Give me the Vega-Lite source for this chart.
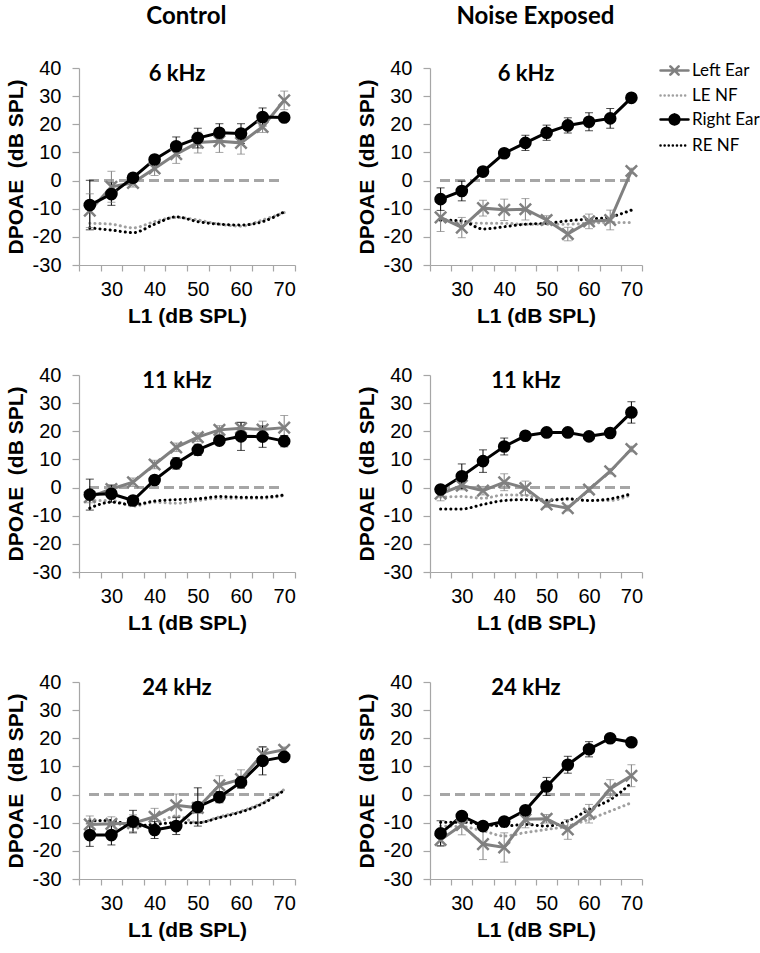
{
  "$schema": "https://vega.github.io/schema/vega-lite/v6.json",
  "background": "white",
  "padding": 5,
  "datasets": {
    "d": [
      {"p":"C6","s":"Left Ear","x":25,"y":-10.7,"lo":-16.7,"hi":-4.7},
      {"p":"C6","s":"Left Ear","x":30,"y":-2.2,"lo":-7.7,"hi":3.3},
      {"p":"C6","s":"Left Ear","x":35,"y":-0.8,"lo":-2.3,"hi":0.7},
      {"p":"C6","s":"Left Ear","x":40,"y":4.3,"lo":1.8,"hi":6.8},
      {"p":"C6","s":"Left Ear","x":45,"y":9.4,"lo":6.1,"hi":12.7},
      {"p":"C6","s":"Left Ear","x":50,"y":13.5,"lo":9.8,"hi":17.2},
      {"p":"C6","s":"Left Ear","x":55,"y":14.0,"lo":10.0,"hi":18.0},
      {"p":"C6","s":"Left Ear","x":60,"y":13.4,"lo":9.4,"hi":17.4},
      {"p":"C6","s":"Left Ear","x":65,"y":19.1,"lo":17.1,"hi":21.1},
      {"p":"C6","s":"Left Ear","x":70,"y":28.5,"lo":25.2,"hi":31.8},
      {"p":"C6","s":"Right Ear","x":25,"y":-8.7,"lo":-17.5,"hi":0.1},
      {"p":"C6","s":"Right Ear","x":30,"y":-4.8,"lo":-8.8,"hi":-0.8},
      {"p":"C6","s":"Right Ear","x":35,"y":1.0,"lo":-0.5,"hi":2.5},
      {"p":"C6","s":"Right Ear","x":40,"y":7.5,"lo":6.0,"hi":9.0},
      {"p":"C6","s":"Right Ear","x":45,"y":12.2,"lo":8.9,"hi":15.5},
      {"p":"C6","s":"Right Ear","x":50,"y":15.1,"lo":11.6,"hi":18.6},
      {"p":"C6","s":"Right Ear","x":55,"y":17.0,"lo":13.8,"hi":20.2},
      {"p":"C6","s":"Right Ear","x":60,"y":16.7,"lo":13.2,"hi":20.2},
      {"p":"C6","s":"Right Ear","x":65,"y":22.6,"lo":19.4,"hi":25.8},
      {"p":"C6","s":"Right Ear","x":70,"y":22.4,"lo":21.4,"hi":23.4},
      {"p":"C6","s":"LE NF","x":25,"y":-15.2},{"p":"C6","s":"LE NF","x":30,"y":-15.5},{"p":"C6","s":"LE NF","x":35,"y":-16.8},{"p":"C6","s":"LE NF","x":40,"y":-14.6},{"p":"C6","s":"LE NF","x":45,"y":-13.1},{"p":"C6","s":"LE NF","x":50,"y":-14.0},{"p":"C6","s":"LE NF","x":55,"y":-15.5},{"p":"C6","s":"LE NF","x":60,"y":-16.2},{"p":"C6","s":"LE NF","x":65,"y":-14.0},{"p":"C6","s":"LE NF","x":70,"y":-11.4},
      {"p":"C6","s":"RE NF","x":25,"y":-16.8},{"p":"C6","s":"RE NF","x":30,"y":-17.6},{"p":"C6","s":"RE NF","x":35,"y":-18.5},{"p":"C6","s":"RE NF","x":40,"y":-15.5},{"p":"C6","s":"RE NF","x":45,"y":-12.9},{"p":"C6","s":"RE NF","x":50,"y":-14.6},{"p":"C6","s":"RE NF","x":55,"y":-15.5},{"p":"C6","s":"RE NF","x":60,"y":-15.8},{"p":"C6","s":"RE NF","x":65,"y":-14.6},{"p":"C6","s":"RE NF","x":70,"y":-11.1},

      {"p":"N6","s":"Left Ear","x":25,"y":-13.1,"lo":-18.1,"hi":-8.1},
      {"p":"N6","s":"Left Ear","x":30,"y":-16.7,"lo":-20.3,"hi":-13.1},
      {"p":"N6","s":"Left Ear","x":35,"y":-9.8,"lo":-12.6,"hi":-7.0},
      {"p":"N6","s":"Left Ear","x":40,"y":-10.4,"lo":-14.2,"hi":-6.6},
      {"p":"N6","s":"Left Ear","x":45,"y":-10.2,"lo":-14.0,"hi":-6.4},
      {"p":"N6","s":"Left Ear","x":50,"y":-14.0,"lo":-15.5,"hi":-12.5},
      {"p":"N6","s":"Left Ear","x":55,"y":-19.0,"lo":-21.4,"hi":-16.6},
      {"p":"N6","s":"Left Ear","x":60,"y":-14.5,"lo":-17.1,"hi":-11.9},
      {"p":"N6","s":"Left Ear","x":65,"y":-14.0,"lo":-17.5,"hi":-10.5},
      {"p":"N6","s":"Left Ear","x":70,"y":3.4,"lo":2.4,"hi":4.4},
      {"p":"N6","s":"Right Ear","x":25,"y":-6.6,"lo":-10.6,"hi":-2.6},
      {"p":"N6","s":"Right Ear","x":30,"y":-3.7,"lo":-7.2,"hi":-0.2},
      {"p":"N6","s":"Right Ear","x":35,"y":3.2,"lo":1.7,"hi":4.7},
      {"p":"N6","s":"Right Ear","x":40,"y":9.7,"lo":8.2,"hi":11.2},
      {"p":"N6","s":"Right Ear","x":45,"y":13.4,"lo":10.7,"hi":16.1},
      {"p":"N6","s":"Right Ear","x":50,"y":17.0,"lo":14.3,"hi":19.7},
      {"p":"N6","s":"Right Ear","x":55,"y":19.6,"lo":16.9,"hi":22.3},
      {"p":"N6","s":"Right Ear","x":60,"y":20.9,"lo":17.7,"hi":24.1},
      {"p":"N6","s":"Right Ear","x":65,"y":22.1,"lo":18.6,"hi":25.6},
      {"p":"N6","s":"Right Ear","x":70,"y":29.4,"lo":28.4,"hi":30.4},
      {"p":"N6","s":"LE NF","x":25,"y":-14.3},{"p":"N6","s":"LE NF","x":30,"y":-14.9},{"p":"N6","s":"LE NF","x":35,"y":-15.2},{"p":"N6","s":"LE NF","x":40,"y":-15.2},{"p":"N6","s":"LE NF","x":45,"y":-15.5},{"p":"N6","s":"LE NF","x":50,"y":-15.5},{"p":"N6","s":"LE NF","x":55,"y":-15.5},{"p":"N6","s":"LE NF","x":60,"y":-15.2},{"p":"N6","s":"LE NF","x":65,"y":-14.9},{"p":"N6","s":"LE NF","x":70,"y":-14.9},
      {"p":"N6","s":"RE NF","x":25,"y":-14.0},{"p":"N6","s":"RE NF","x":30,"y":-14.3},{"p":"N6","s":"RE NF","x":35,"y":-17.2},{"p":"N6","s":"RE NF","x":40,"y":-16.4},{"p":"N6","s":"RE NF","x":45,"y":-15.5},{"p":"N6","s":"RE NF","x":50,"y":-15.2},{"p":"N6","s":"RE NF","x":55,"y":-14.3},{"p":"N6","s":"RE NF","x":60,"y":-13.7},{"p":"N6","s":"RE NF","x":65,"y":-12.9},{"p":"N6","s":"RE NF","x":70,"y":-10.5},

      {"p":"C11","s":"Left Ear","x":25,"y":-3.4,"lo":-5.4,"hi":-1.4},
      {"p":"C11","s":"Left Ear","x":30,"y":-0.5,"lo":-2.0,"hi":1.0},
      {"p":"C11","s":"Left Ear","x":35,"y":1.9,"lo":0.4,"hi":3.4},
      {"p":"C11","s":"Left Ear","x":40,"y":8.2,"lo":6.7,"hi":9.7},
      {"p":"C11","s":"Left Ear","x":45,"y":14.3,"lo":12.8,"hi":15.8},
      {"p":"C11","s":"Left Ear","x":50,"y":17.9,"lo":16.4,"hi":19.4},
      {"p":"C11","s":"Left Ear","x":55,"y":20.5,"lo":19.0,"hi":22.0},
      {"p":"C11","s":"Left Ear","x":60,"y":21.1,"lo":19.1,"hi":23.1},
      {"p":"C11","s":"Left Ear","x":65,"y":20.6,"lo":17.6,"hi":23.6},
      {"p":"C11","s":"Left Ear","x":70,"y":21.3,"lo":17.0,"hi":25.6},
      {"p":"C11","s":"Right Ear","x":25,"y":-2.5,"lo":-8.0,"hi":3.0},
      {"p":"C11","s":"Right Ear","x":30,"y":-2.2,"lo":-5.2,"hi":0.8},
      {"p":"C11","s":"Right Ear","x":35,"y":-4.6,"lo":-5.6,"hi":-3.6},
      {"p":"C11","s":"Right Ear","x":40,"y":2.7,"lo":1.2,"hi":4.2},
      {"p":"C11","s":"Right Ear","x":45,"y":8.6,"lo":6.6,"hi":10.6},
      {"p":"C11","s":"Right Ear","x":50,"y":13.4,"lo":11.4,"hi":15.4},
      {"p":"C11","s":"Right Ear","x":55,"y":16.7,"lo":15.2,"hi":18.2},
      {"p":"C11","s":"Right Ear","x":60,"y":18.2,"lo":13.2,"hi":23.2},
      {"p":"C11","s":"Right Ear","x":65,"y":18.1,"lo":14.3,"hi":21.9},
      {"p":"C11","s":"Right Ear","x":70,"y":16.5,"lo":14.5,"hi":18.5},
      {"p":"C11","s":"LE NF","x":25,"y":-4.6},{"p":"C11","s":"LE NF","x":30,"y":-4.6},{"p":"C11","s":"LE NF","x":35,"y":-6.6},{"p":"C11","s":"LE NF","x":40,"y":-5.2},{"p":"C11","s":"LE NF","x":45,"y":-5.6},{"p":"C11","s":"LE NF","x":50,"y":-4.6},{"p":"C11","s":"LE NF","x":55,"y":-3.8},{"p":"C11","s":"LE NF","x":60,"y":-3.8},{"p":"C11","s":"LE NF","x":65,"y":-3.8},{"p":"C11","s":"LE NF","x":70,"y":-2.8},
      {"p":"C11","s":"RE NF","x":25,"y":-7.3},{"p":"C11","s":"RE NF","x":30,"y":-5.2},{"p":"C11","s":"RE NF","x":35,"y":-6.1},{"p":"C11","s":"RE NF","x":40,"y":-4.8},{"p":"C11","s":"RE NF","x":45,"y":-4.3},{"p":"C11","s":"RE NF","x":50,"y":-4.0},{"p":"C11","s":"RE NF","x":55,"y":-3.2},{"p":"C11","s":"RE NF","x":60,"y":-3.4},{"p":"C11","s":"RE NF","x":65,"y":-3.4},{"p":"C11","s":"RE NF","x":70,"y":-2.6},

      {"p":"N11","s":"Left Ear","x":25,"y":-2.2,"lo":-4.7,"hi":0.3},
      {"p":"N11","s":"Left Ear","x":30,"y":0.7,"lo":-0.8,"hi":2.2},
      {"p":"N11","s":"Left Ear","x":35,"y":-1.1,"lo":-2.6,"hi":0.4},
      {"p":"N11","s":"Left Ear","x":40,"y":1.9,"lo":-1.1,"hi":4.9},
      {"p":"N11","s":"Left Ear","x":45,"y":-0.2,"lo":-2.7,"hi":2.3},
      {"p":"N11","s":"Left Ear","x":50,"y":-6.0,"lo":-7.0,"hi":-5.0},
      {"p":"N11","s":"Left Ear","x":55,"y":-7.3,"lo":-8.3,"hi":-6.3},
      {"p":"N11","s":"Left Ear","x":60,"y":-0.7,"lo":-1.7,"hi":0.3},
      {"p":"N11","s":"Left Ear","x":65,"y":5.8,"lo":4.8,"hi":6.8},
      {"p":"N11","s":"Left Ear","x":70,"y":13.7,"lo":12.7,"hi":14.7},
      {"p":"N11","s":"Right Ear","x":25,"y":-0.7,"lo":-1.7,"hi":0.3},
      {"p":"N11","s":"Right Ear","x":30,"y":4.0,"lo":-0.4,"hi":8.4},
      {"p":"N11","s":"Right Ear","x":35,"y":9.4,"lo":5.4,"hi":13.4},
      {"p":"N11","s":"Right Ear","x":40,"y":14.6,"lo":11.6,"hi":17.6},
      {"p":"N11","s":"Right Ear","x":45,"y":18.4,"lo":17.4,"hi":19.4},
      {"p":"N11","s":"Right Ear","x":50,"y":19.6,"lo":18.6,"hi":20.6},
      {"p":"N11","s":"Right Ear","x":55,"y":19.6,"lo":18.6,"hi":20.6},
      {"p":"N11","s":"Right Ear","x":60,"y":18.2,"lo":17.2,"hi":19.2},
      {"p":"N11","s":"Right Ear","x":65,"y":19.4,"lo":18.4,"hi":20.4},
      {"p":"N11","s":"Right Ear","x":70,"y":26.7,"lo":22.9,"hi":30.5},
      {"p":"N11","s":"LE NF","x":25,"y":-3.4},{"p":"N11","s":"LE NF","x":30,"y":-3.2},{"p":"N11","s":"LE NF","x":35,"y":-3.8},{"p":"N11","s":"LE NF","x":40,"y":-2.6},{"p":"N11","s":"LE NF","x":45,"y":-2.8},{"p":"N11","s":"LE NF","x":50,"y":-4.4},{"p":"N11","s":"LE NF","x":55,"y":-4.3},{"p":"N11","s":"LE NF","x":60,"y":-4.6},{"p":"N11","s":"LE NF","x":65,"y":-4.6},{"p":"N11","s":"LE NF","x":70,"y":-2.5},
      {"p":"N11","s":"RE NF","x":25,"y":-7.6},{"p":"N11","s":"RE NF","x":30,"y":-7.6},{"p":"N11","s":"RE NF","x":35,"y":-6.0},{"p":"N11","s":"RE NF","x":40,"y":-4.6},{"p":"N11","s":"RE NF","x":45,"y":-4.3},{"p":"N11","s":"RE NF","x":50,"y":-4.6},{"p":"N11","s":"RE NF","x":55,"y":-4.0},{"p":"N11","s":"RE NF","x":60,"y":-4.6},{"p":"N11","s":"RE NF","x":65,"y":-4.0},{"p":"N11","s":"RE NF","x":70,"y":-2.2},

      {"p":"C24","s":"Left Ear","x":25,"y":-10.6,"lo":-13.6,"hi":-7.6},
      {"p":"C24","s":"Left Ear","x":30,"y":-10.4,"lo":-12.9,"hi":-7.9},
      {"p":"C24","s":"Left Ear","x":35,"y":-10.2,"lo":-13.2,"hi":-7.2},
      {"p":"C24","s":"Left Ear","x":40,"y":-7.9,"lo":-10.9,"hi":-4.9},
      {"p":"C24","s":"Left Ear","x":45,"y":-3.8,"lo":-7.8,"hi":0.2},
      {"p":"C24","s":"Left Ear","x":50,"y":-4.7,"lo":-6.7,"hi":-2.7},
      {"p":"C24","s":"Left Ear","x":55,"y":3.3,"lo":-0.1,"hi":6.7},
      {"p":"C24","s":"Left Ear","x":60,"y":5.5,"lo":2.2,"hi":8.8},
      {"p":"C24","s":"Left Ear","x":65,"y":14.4,"lo":12.0,"hi":16.8},
      {"p":"C24","s":"Left Ear","x":70,"y":15.9,"lo":14.9,"hi":16.9},
      {"p":"C24","s":"Right Ear","x":25,"y":-14.4,"lo":-18.4,"hi":-10.4},
      {"p":"C24","s":"Right Ear","x":30,"y":-14.4,"lo":-17.9,"hi":-10.9},
      {"p":"C24","s":"Right Ear","x":35,"y":-9.6,"lo":-13.6,"hi":-5.6},
      {"p":"C24","s":"Right Ear","x":40,"y":-12.6,"lo":-15.6,"hi":-9.6},
      {"p":"C24","s":"Right Ear","x":45,"y":-11.2,"lo":-14.2,"hi":-8.2},
      {"p":"C24","s":"Right Ear","x":50,"y":-4.4,"lo":-11.2,"hi":2.4},
      {"p":"C24","s":"Right Ear","x":55,"y":-0.9,"lo":-2.9,"hi":1.1},
      {"p":"C24","s":"Right Ear","x":60,"y":4.4,"lo":2.4,"hi":6.4},
      {"p":"C24","s":"Right Ear","x":65,"y":12.0,"lo":7.0,"hi":17.0},
      {"p":"C24","s":"Right Ear","x":70,"y":13.4,"lo":12.4,"hi":14.4},
      {"p":"C24","s":"LE NF","x":25,"y":-8.8},{"p":"C24","s":"LE NF","x":30,"y":-9.8},{"p":"C24","s":"LE NF","x":35,"y":-11.5},{"p":"C24","s":"LE NF","x":40,"y":-10.4},{"p":"C24","s":"LE NF","x":45,"y":-7.6},{"p":"C24","s":"LE NF","x":50,"y":-10.0},{"p":"C24","s":"LE NF","x":55,"y":-7.9},{"p":"C24","s":"LE NF","x":60,"y":-5.9},{"p":"C24","s":"LE NF","x":65,"y":-2.9},{"p":"C24","s":"LE NF","x":70,"y":1.8},
      {"p":"C24","s":"RE NF","x":25,"y":-9.4},{"p":"C24","s":"RE NF","x":30,"y":-9.2},{"p":"C24","s":"RE NF","x":35,"y":-11.2},{"p":"C24","s":"RE NF","x":40,"y":-10.6},{"p":"C24","s":"RE NF","x":45,"y":-10.0},{"p":"C24","s":"RE NF","x":50,"y":-10.0},{"p":"C24","s":"RE NF","x":55,"y":-8.2},{"p":"C24","s":"RE NF","x":60,"y":-6.2},{"p":"C24","s":"RE NF","x":65,"y":-3.2},{"p":"C24","s":"RE NF","x":70,"y":1.5},

      {"p":"N24","s":"Left Ear","x":25,"y":-16.1,"lo":-18.1,"hi":-14.1},
      {"p":"N24","s":"Left Ear","x":30,"y":-10.8,"lo":-14.3,"hi":-7.3},
      {"p":"N24","s":"Left Ear","x":35,"y":-17.6,"lo":-23.1,"hi":-12.1},
      {"p":"N24","s":"Left Ear","x":40,"y":-18.8,"lo":-24.0,"hi":-13.6},
      {"p":"N24","s":"Left Ear","x":45,"y":-8.8,"lo":-11.8,"hi":-5.8},
      {"p":"N24","s":"Left Ear","x":50,"y":-8.6,"lo":-10.1,"hi":-7.1},
      {"p":"N24","s":"Left Ear","x":55,"y":-12.4,"lo":-15.9,"hi":-8.9},
      {"p":"N24","s":"Left Ear","x":60,"y":-6.8,"lo":-10.1,"hi":-3.5},
      {"p":"N24","s":"Left Ear","x":65,"y":2.1,"lo":-1.1,"hi":5.3},
      {"p":"N24","s":"Left Ear","x":70,"y":6.7,"lo":2.8,"hi":10.6},
      {"p":"N24","s":"Right Ear","x":25,"y":-13.8,"lo":-18.3,"hi":-9.3},
      {"p":"N24","s":"Right Ear","x":30,"y":-7.6,"lo":-8.6,"hi":-6.6},
      {"p":"N24","s":"Right Ear","x":35,"y":-11.2,"lo":-12.2,"hi":-10.2},
      {"p":"N24","s":"Right Ear","x":40,"y":-9.6,"lo":-10.6,"hi":-8.6},
      {"p":"N24","s":"Right Ear","x":45,"y":-5.6,"lo":-6.6,"hi":-4.6},
      {"p":"N24","s":"Right Ear","x":50,"y":2.9,"lo":-0.3,"hi":6.1},
      {"p":"N24","s":"Right Ear","x":55,"y":10.6,"lo":7.6,"hi":13.6},
      {"p":"N24","s":"Right Ear","x":60,"y":16.1,"lo":13.4,"hi":18.8},
      {"p":"N24","s":"Right Ear","x":65,"y":20.0,"lo":19.0,"hi":21.0},
      {"p":"N24","s":"Right Ear","x":70,"y":18.6,"lo":17.6,"hi":19.6},
      {"p":"N24","s":"LE NF","x":25,"y":-11.2},{"p":"N24","s":"LE NF","x":30,"y":-11.4},{"p":"N24","s":"LE NF","x":35,"y":-12.9},{"p":"N24","s":"LE NF","x":40,"y":-14.7},{"p":"N24","s":"LE NF","x":45,"y":-13.5},{"p":"N24","s":"LE NF","x":50,"y":-12.4},{"p":"N24","s":"LE NF","x":55,"y":-11.2},{"p":"N24","s":"LE NF","x":60,"y":-8.8},{"p":"N24","s":"LE NF","x":65,"y":-5.9},{"p":"N24","s":"LE NF","x":70,"y":-2.9},
      {"p":"N24","s":"RE NF","x":25,"y":-9.8},{"p":"N24","s":"RE NF","x":30,"y":-9.8},{"p":"N24","s":"RE NF","x":35,"y":-10.6},{"p":"N24","s":"RE NF","x":40,"y":-11.2},{"p":"N24","s":"RE NF","x":45,"y":-10.6},{"p":"N24","s":"RE NF","x":50,"y":-11.2},{"p":"N24","s":"RE NF","x":55,"y":-9.4},{"p":"N24","s":"RE NF","x":60,"y":-5.3},{"p":"N24","s":"RE NF","x":65,"y":-1.8},{"p":"N24","s":"RE NF","x":70,"y":4.1}
    ]
  },
  "data": {"name": "d"},
  "spacing": 60,
  "hconcat": [
    {
      "title": {"text": "Control", "offset": 29, "dx": 36, "fontSize": 24},
      "spacing": 39,
      "vconcat": [
        {
          "width": 216, "height": 197, "title": "6 kHz",
          "transform": [{"filter": "datum.p == 'C6'"}],
          "encoding": {
            "x": {"field": "x", "type": "ordinal", "bandPosition": 0.5, "scale": {"type": "band", "paddingInner": 0, "paddingOuter": 0}, "axis": {"title": "L1 (dB SPL)"}},
            "y": {"field": "y", "type": "quantitative", "scale": {"domain": [-30, 40], "nice": false}, "axis": {"title": "DPOAE\u00a0 (dB SPL)"}}
          },
          "layer": [
            {"mark": {"type": "rule", "color": "#a6a6a6", "strokeWidth": 2, "strokeDash": [9, 6]}, "encoding": {"x": {"datum": 25, "type": "ordinal", "bandPosition": 0.5}, "x2": {"datum": 70}, "y": {"datum": 0, "type": "quantitative"}}},
            {"transform": [{"filter": "datum.s == 'LE NF'"}], "mark": {"type": "line", "interpolate": "monotone", "color": "#a0a0a0", "strokeWidth": 3, "strokeDash": [0.1, 5], "strokeCap": "round"}},
            {"transform": [{"filter": "datum.s == 'RE NF'"}], "mark": {"type": "line", "interpolate": "monotone", "color": "#000000", "strokeWidth": 3, "strokeDash": [0.1, 5], "strokeCap": "round"}},
            {"transform": [{"filter": "isValid(datum.lo)"}], "mark": {"type": "rule", "strokeWidth": 1}, "encoding": {"y": {"field": "lo", "type": "quantitative"}, "y2": {"field": "hi"}, "color": {"condition": {"test": "datum.s == 'Right Ear'", "value": "#000000"}, "value": "#808080"}}},
            {"transform": [{"filter": "isValid(datum.lo)"}], "mark": {"type": "tick", "orient": "horizontal", "size": 8, "thickness": 1}, "encoding": {"y": {"field": "lo", "type": "quantitative"}, "color": {"condition": {"test": "datum.s == 'Right Ear'", "value": "#000000"}, "value": "#808080"}}},
            {"transform": [{"filter": "isValid(datum.lo)"}], "mark": {"type": "tick", "orient": "horizontal", "size": 8, "thickness": 1}, "encoding": {"y": {"field": "hi", "type": "quantitative"}, "color": {"condition": {"test": "datum.s == 'Right Ear'", "value": "#000000"}, "value": "#808080"}}},
            {"transform": [{"filter": "isValid(datum.lo)"}], "mark": {"type": "line", "strokeWidth": 3},
             "encoding": {"color": {"field": "s", "type": "nominal",
               "scale": {"domain": ["Left Ear", "LE NF", "Right Ear", "RE NF"], "range": ["#808080", "#a0a0a0", "#000000", "#000000"]},
               "legend": {"title": null, "orient": "none", "legendX": 580, "legendY": -13, "symbolType": "stroke", "symbolSize": 784, "symbolStrokeWidth": 2.5, "labelFont": "Lato", "labelFontSize": 17, "labelColor": "#000000", "labelOffset": 2, "rowPadding": -2,
                 "encode": {"symbols": {"update": {
                   "shape": {"signal": "datum.value == 'Left Ear' ? 'M-1,0H1M-0.3,-0.3L0.3,0.3M-0.3,0.3L0.3,-0.3' : datum.value == 'Right Ear' ? 'M-1,0H-0.35M0.35,0H1M0.35,0A0.35,0.35,0,1,1,-0.35,0A0.35,0.35,0,1,1,0.35,0Z' : 'M-1,0H1'"},
                   "fill": {"signal": "datum.value == 'Right Ear' ? '#000000' : 'transparent'"},
                   "strokeDash": {"signal": "(datum.value == 'LE NF' || datum.value == 'RE NF') ? [0.1, 4] : [1, 0]"},
                   "strokeCap": {"value": "round"}
                 }}}}}}},
            {"transform": [{"filter": "datum.s == 'Left Ear'"}], "mark": {"type": "point", "shape": "M-1,-1L1,1M-1,1L1,-1", "filled": false, "color": "#808080", "strokeWidth": 2.5, "size": 130, "opacity": 1}},
            {"transform": [{"filter": "datum.s == 'Right Ear'"}], "mark": {"type": "point", "shape": "circle", "filled": true, "color": "#000000", "size": 160, "opacity": 1}}
          ]
        },
        {
          "width": 216, "height": 197, "title": "11 kHz",
          "transform": [{"filter": "datum.p == 'C11'"}],
          "encoding": {
            "x": {"field": "x", "type": "ordinal", "bandPosition": 0.5, "scale": {"type": "band", "paddingInner": 0, "paddingOuter": 0}, "axis": {"title": "L1 (dB SPL)"}},
            "y": {"field": "y", "type": "quantitative", "scale": {"domain": [-30, 40], "nice": false}, "axis": {"title": "DPOAE\u00a0 (dB SPL)"}}
          },
          "layer": [
            {"mark": {"type": "rule", "color": "#a6a6a6", "strokeWidth": 2, "strokeDash": [9, 6]}, "encoding": {"x": {"datum": 25, "type": "ordinal", "bandPosition": 0.5}, "x2": {"datum": 70}, "y": {"datum": 0, "type": "quantitative"}}},
            {"transform": [{"filter": "datum.s == 'LE NF'"}], "mark": {"type": "line", "interpolate": "monotone", "color": "#a0a0a0", "strokeWidth": 3, "strokeDash": [0.1, 5], "strokeCap": "round"}},
            {"transform": [{"filter": "datum.s == 'RE NF'"}], "mark": {"type": "line", "interpolate": "monotone", "color": "#000000", "strokeWidth": 3, "strokeDash": [0.1, 5], "strokeCap": "round"}},
            {"transform": [{"filter": "isValid(datum.lo)"}], "mark": {"type": "rule", "strokeWidth": 1}, "encoding": {"y": {"field": "lo", "type": "quantitative"}, "y2": {"field": "hi"}, "color": {"condition": {"test": "datum.s == 'Right Ear'", "value": "#000000"}, "value": "#808080"}}},
            {"transform": [{"filter": "isValid(datum.lo)"}], "mark": {"type": "tick", "orient": "horizontal", "size": 8, "thickness": 1}, "encoding": {"y": {"field": "lo", "type": "quantitative"}, "color": {"condition": {"test": "datum.s == 'Right Ear'", "value": "#000000"}, "value": "#808080"}}},
            {"transform": [{"filter": "isValid(datum.lo)"}], "mark": {"type": "tick", "orient": "horizontal", "size": 8, "thickness": 1}, "encoding": {"y": {"field": "hi", "type": "quantitative"}, "color": {"condition": {"test": "datum.s == 'Right Ear'", "value": "#000000"}, "value": "#808080"}}},
            {"transform": [{"filter": "isValid(datum.lo)"}], "mark": {"type": "line", "strokeWidth": 3}, "encoding": {"color": {"field": "s", "type": "nominal", "scale": {"domain": ["Left Ear", "LE NF", "Right Ear", "RE NF"], "range": ["#808080", "#a0a0a0", "#000000", "#000000"]}, "legend": null}}},
            {"transform": [{"filter": "datum.s == 'Left Ear'"}], "mark": {"type": "point", "shape": "M-1,-1L1,1M-1,1L1,-1", "filled": false, "color": "#808080", "strokeWidth": 2.5, "size": 130, "opacity": 1}},
            {"transform": [{"filter": "datum.s == 'Right Ear'"}], "mark": {"type": "point", "shape": "circle", "filled": true, "color": "#000000", "size": 160, "opacity": 1}}
          ]
        },
        {
          "width": 216, "height": 197, "title": "24 kHz",
          "transform": [{"filter": "datum.p == 'C24'"}],
          "encoding": {
            "x": {"field": "x", "type": "ordinal", "bandPosition": 0.5, "scale": {"type": "band", "paddingInner": 0, "paddingOuter": 0}, "axis": {"title": "L1 (dB SPL)"}},
            "y": {"field": "y", "type": "quantitative", "scale": {"domain": [-30, 40], "nice": false}, "axis": {"title": "DPOAE\u00a0 (dB SPL)"}}
          },
          "layer": [
            {"mark": {"type": "rule", "color": "#a6a6a6", "strokeWidth": 2, "strokeDash": [9, 6]}, "encoding": {"x": {"datum": 25, "type": "ordinal", "bandPosition": 0.5}, "x2": {"datum": 70}, "y": {"datum": 0, "type": "quantitative"}}},
            {"transform": [{"filter": "datum.s == 'LE NF'"}], "mark": {"type": "line", "interpolate": "monotone", "color": "#a0a0a0", "strokeWidth": 3, "strokeDash": [0.1, 5], "strokeCap": "round"}},
            {"transform": [{"filter": "datum.s == 'RE NF'"}], "mark": {"type": "line", "interpolate": "monotone", "color": "#000000", "strokeWidth": 3, "strokeDash": [0.1, 5], "strokeCap": "round"}},
            {"transform": [{"filter": "isValid(datum.lo)"}], "mark": {"type": "rule", "strokeWidth": 1}, "encoding": {"y": {"field": "lo", "type": "quantitative"}, "y2": {"field": "hi"}, "color": {"condition": {"test": "datum.s == 'Right Ear'", "value": "#000000"}, "value": "#808080"}}},
            {"transform": [{"filter": "isValid(datum.lo)"}], "mark": {"type": "tick", "orient": "horizontal", "size": 8, "thickness": 1}, "encoding": {"y": {"field": "lo", "type": "quantitative"}, "color": {"condition": {"test": "datum.s == 'Right Ear'", "value": "#000000"}, "value": "#808080"}}},
            {"transform": [{"filter": "isValid(datum.lo)"}], "mark": {"type": "tick", "orient": "horizontal", "size": 8, "thickness": 1}, "encoding": {"y": {"field": "hi", "type": "quantitative"}, "color": {"condition": {"test": "datum.s == 'Right Ear'", "value": "#000000"}, "value": "#808080"}}},
            {"transform": [{"filter": "isValid(datum.lo)"}], "mark": {"type": "line", "strokeWidth": 3}, "encoding": {"color": {"field": "s", "type": "nominal", "scale": {"domain": ["Left Ear", "LE NF", "Right Ear", "RE NF"], "range": ["#808080", "#a0a0a0", "#000000", "#000000"]}, "legend": null}}},
            {"transform": [{"filter": "datum.s == 'Left Ear'"}], "mark": {"type": "point", "shape": "M-1,-1L1,1M-1,1L1,-1", "filled": false, "color": "#808080", "strokeWidth": 2.5, "size": 130, "opacity": 1}},
            {"transform": [{"filter": "datum.s == 'Right Ear'"}], "mark": {"type": "point", "shape": "circle", "filled": true, "color": "#000000", "size": 160, "opacity": 1}}
          ]
        }
      ]
    },
    {
      "title": {"text": "Noise Exposed", "offset": 29, "dx": 36, "fontSize": 24},
      "spacing": 39,
      "vconcat": [
        {
          "width": 212, "height": 197, "title": "6 kHz",
          "transform": [{"filter": "datum.p == 'N6'"}],
          "encoding": {
            "x": {"field": "x", "type": "ordinal", "bandPosition": 0.5, "scale": {"type": "band", "paddingInner": 0, "paddingOuter": 0}, "axis": {"title": "L1 (dB SPL)"}},
            "y": {"field": "y", "type": "quantitative", "scale": {"domain": [-30, 40], "nice": false}, "axis": {"title": "DPOAE\u00a0 (dB SPL)"}}
          },
          "layer": [
            {"mark": {"type": "rule", "color": "#a6a6a6", "strokeWidth": 2, "strokeDash": [9, 6]}, "encoding": {"x": {"datum": 25, "type": "ordinal", "bandPosition": 0.5}, "x2": {"datum": 70}, "y": {"datum": 0, "type": "quantitative"}}},
            {"transform": [{"filter": "datum.s == 'LE NF'"}], "mark": {"type": "line", "interpolate": "monotone", "color": "#a0a0a0", "strokeWidth": 3, "strokeDash": [0.1, 5], "strokeCap": "round"}},
            {"transform": [{"filter": "datum.s == 'RE NF'"}], "mark": {"type": "line", "interpolate": "monotone", "color": "#000000", "strokeWidth": 3, "strokeDash": [0.1, 5], "strokeCap": "round"}},
            {"transform": [{"filter": "isValid(datum.lo)"}], "mark": {"type": "rule", "strokeWidth": 1}, "encoding": {"y": {"field": "lo", "type": "quantitative"}, "y2": {"field": "hi"}, "color": {"condition": {"test": "datum.s == 'Right Ear'", "value": "#000000"}, "value": "#808080"}}},
            {"transform": [{"filter": "isValid(datum.lo)"}], "mark": {"type": "tick", "orient": "horizontal", "size": 8, "thickness": 1}, "encoding": {"y": {"field": "lo", "type": "quantitative"}, "color": {"condition": {"test": "datum.s == 'Right Ear'", "value": "#000000"}, "value": "#808080"}}},
            {"transform": [{"filter": "isValid(datum.lo)"}], "mark": {"type": "tick", "orient": "horizontal", "size": 8, "thickness": 1}, "encoding": {"y": {"field": "hi", "type": "quantitative"}, "color": {"condition": {"test": "datum.s == 'Right Ear'", "value": "#000000"}, "value": "#808080"}}},
            {"transform": [{"filter": "isValid(datum.lo)"}], "mark": {"type": "line", "strokeWidth": 3}, "encoding": {"color": {"field": "s", "type": "nominal", "scale": {"domain": ["Left Ear", "LE NF", "Right Ear", "RE NF"], "range": ["#808080", "#a0a0a0", "#000000", "#000000"]}, "legend": null}}},
            {"transform": [{"filter": "datum.s == 'Left Ear'"}], "mark": {"type": "point", "shape": "M-1,-1L1,1M-1,1L1,-1", "filled": false, "color": "#808080", "strokeWidth": 2.5, "size": 130, "opacity": 1}},
            {"transform": [{"filter": "datum.s == 'Right Ear'"}], "mark": {"type": "point", "shape": "circle", "filled": true, "color": "#000000", "size": 160, "opacity": 1}}
          ]
        },
        {
          "width": 212, "height": 197, "title": "11 kHz",
          "transform": [{"filter": "datum.p == 'N11'"}],
          "encoding": {
            "x": {"field": "x", "type": "ordinal", "bandPosition": 0.5, "scale": {"type": "band", "paddingInner": 0, "paddingOuter": 0}, "axis": {"title": "L1 (dB SPL)"}},
            "y": {"field": "y", "type": "quantitative", "scale": {"domain": [-30, 40], "nice": false}, "axis": {"title": "DPOAE\u00a0 (dB SPL)"}}
          },
          "layer": [
            {"mark": {"type": "rule", "color": "#a6a6a6", "strokeWidth": 2, "strokeDash": [9, 6]}, "encoding": {"x": {"datum": 25, "type": "ordinal", "bandPosition": 0.5}, "x2": {"datum": 70}, "y": {"datum": 0, "type": "quantitative"}}},
            {"transform": [{"filter": "datum.s == 'LE NF'"}], "mark": {"type": "line", "interpolate": "monotone", "color": "#a0a0a0", "strokeWidth": 3, "strokeDash": [0.1, 5], "strokeCap": "round"}},
            {"transform": [{"filter": "datum.s == 'RE NF'"}], "mark": {"type": "line", "interpolate": "monotone", "color": "#000000", "strokeWidth": 3, "strokeDash": [0.1, 5], "strokeCap": "round"}},
            {"transform": [{"filter": "isValid(datum.lo)"}], "mark": {"type": "rule", "strokeWidth": 1}, "encoding": {"y": {"field": "lo", "type": "quantitative"}, "y2": {"field": "hi"}, "color": {"condition": {"test": "datum.s == 'Right Ear'", "value": "#000000"}, "value": "#808080"}}},
            {"transform": [{"filter": "isValid(datum.lo)"}], "mark": {"type": "tick", "orient": "horizontal", "size": 8, "thickness": 1}, "encoding": {"y": {"field": "lo", "type": "quantitative"}, "color": {"condition": {"test": "datum.s == 'Right Ear'", "value": "#000000"}, "value": "#808080"}}},
            {"transform": [{"filter": "isValid(datum.lo)"}], "mark": {"type": "tick", "orient": "horizontal", "size": 8, "thickness": 1}, "encoding": {"y": {"field": "hi", "type": "quantitative"}, "color": {"condition": {"test": "datum.s == 'Right Ear'", "value": "#000000"}, "value": "#808080"}}},
            {"transform": [{"filter": "isValid(datum.lo)"}], "mark": {"type": "line", "strokeWidth": 3}, "encoding": {"color": {"field": "s", "type": "nominal", "scale": {"domain": ["Left Ear", "LE NF", "Right Ear", "RE NF"], "range": ["#808080", "#a0a0a0", "#000000", "#000000"]}, "legend": null}}},
            {"transform": [{"filter": "datum.s == 'Left Ear'"}], "mark": {"type": "point", "shape": "M-1,-1L1,1M-1,1L1,-1", "filled": false, "color": "#808080", "strokeWidth": 2.5, "size": 130, "opacity": 1}},
            {"transform": [{"filter": "datum.s == 'Right Ear'"}], "mark": {"type": "point", "shape": "circle", "filled": true, "color": "#000000", "size": 160, "opacity": 1}}
          ]
        },
        {
          "width": 212, "height": 197, "title": "24 kHz",
          "transform": [{"filter": "datum.p == 'N24'"}],
          "encoding": {
            "x": {"field": "x", "type": "ordinal", "bandPosition": 0.5, "scale": {"type": "band", "paddingInner": 0, "paddingOuter": 0}, "axis": {"title": "L1 (dB SPL)"}},
            "y": {"field": "y", "type": "quantitative", "scale": {"domain": [-30, 40], "nice": false}, "axis": {"title": "DPOAE\u00a0 (dB SPL)"}}
          },
          "layer": [
            {"mark": {"type": "rule", "color": "#a6a6a6", "strokeWidth": 2, "strokeDash": [9, 6]}, "encoding": {"x": {"datum": 25, "type": "ordinal", "bandPosition": 0.5}, "x2": {"datum": 70}, "y": {"datum": 0, "type": "quantitative"}}},
            {"transform": [{"filter": "datum.s == 'LE NF'"}], "mark": {"type": "line", "interpolate": "monotone", "color": "#a0a0a0", "strokeWidth": 3, "strokeDash": [0.1, 5], "strokeCap": "round"}},
            {"transform": [{"filter": "datum.s == 'RE NF'"}], "mark": {"type": "line", "interpolate": "monotone", "color": "#000000", "strokeWidth": 3, "strokeDash": [0.1, 5], "strokeCap": "round"}},
            {"transform": [{"filter": "isValid(datum.lo)"}], "mark": {"type": "rule", "strokeWidth": 1}, "encoding": {"y": {"field": "lo", "type": "quantitative"}, "y2": {"field": "hi"}, "color": {"condition": {"test": "datum.s == 'Right Ear'", "value": "#000000"}, "value": "#808080"}}},
            {"transform": [{"filter": "isValid(datum.lo)"}], "mark": {"type": "tick", "orient": "horizontal", "size": 8, "thickness": 1}, "encoding": {"y": {"field": "lo", "type": "quantitative"}, "color": {"condition": {"test": "datum.s == 'Right Ear'", "value": "#000000"}, "value": "#808080"}}},
            {"transform": [{"filter": "isValid(datum.lo)"}], "mark": {"type": "tick", "orient": "horizontal", "size": 8, "thickness": 1}, "encoding": {"y": {"field": "hi", "type": "quantitative"}, "color": {"condition": {"test": "datum.s == 'Right Ear'", "value": "#000000"}, "value": "#808080"}}},
            {"transform": [{"filter": "isValid(datum.lo)"}], "mark": {"type": "line", "strokeWidth": 3}, "encoding": {"color": {"field": "s", "type": "nominal", "scale": {"domain": ["Left Ear", "LE NF", "Right Ear", "RE NF"], "range": ["#808080", "#a0a0a0", "#000000", "#000000"]}, "legend": null}}},
            {"transform": [{"filter": "datum.s == 'Left Ear'"}], "mark": {"type": "point", "shape": "M-1,-1L1,1M-1,1L1,-1", "filled": false, "color": "#808080", "strokeWidth": 2.5, "size": 130, "opacity": 1}},
            {"transform": [{"filter": "datum.s == 'Right Ear'"}], "mark": {"type": "point", "shape": "circle", "filled": true, "color": "#000000", "size": 160, "opacity": 1}}
          ]
        }
      ]
    }
  ],
  "config": {
    "view": {"stroke": null},
    "title": {"font": "Lato", "fontSize": 22, "fontWeight": "bold", "color": "#000000", "anchor": "middle", "offset": -28, "dx": -10},
    "axis": {"grid": false, "domainColor": "#a6a6a6", "tickColor": "#a6a6a6", "domainWidth": 1.2, "tickWidth": 1.2, "labelFont": "Liberation Sans", "labelFontSize": 20, "labelColor": "#000000", "titleFont": "Liberation Sans", "titleFontSize": 21, "titleFontWeight": "bold", "titleColor": "#000000"},
    "axisX": {"tickBand": "extent", "labelAngle": 0, "tickSize": 6, "labelPadding": 8, "titlePadding": 6, "labelExpr": "datum.value % 10 == 0 ? datum.label : ''"},
    "axisY": {"tickCount": 8, "tickSize": 7, "labelPadding": 11, "titlePadding": 6, "labelExpr": "'' + datum.value"}
  }
}
